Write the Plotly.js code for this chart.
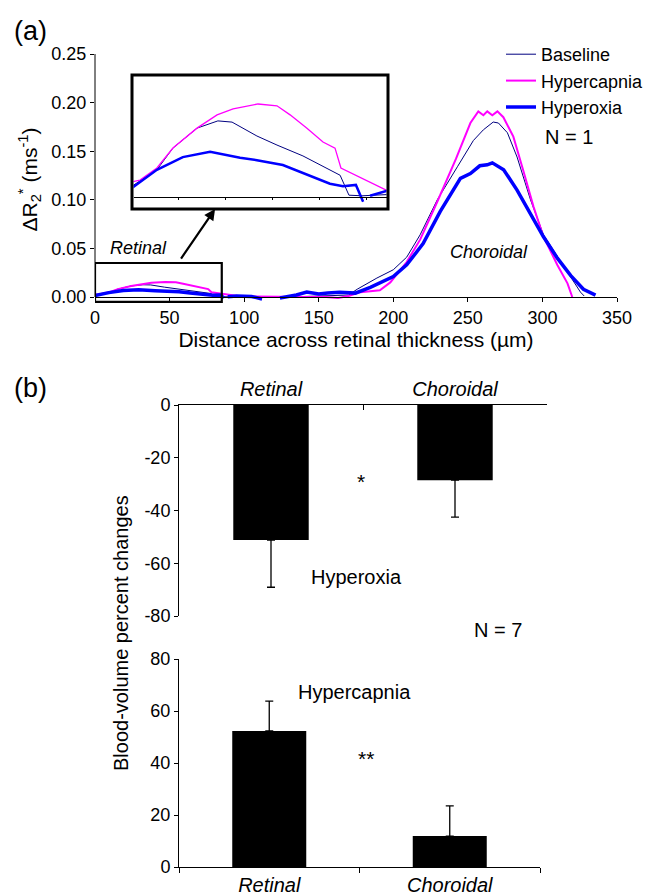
<!DOCTYPE html>
<html>
<head>
<meta charset="utf-8">
<script src="https://cdn.plot.ly/plotly-3.0.1.min.js"></script>
<style>html,body{margin:0;padding:0;background:#fff;}</style>
</head>
<body>
<div id="chart" style="width:651px;height:896px;"></div>
<script>
// ---- Panel (a): ΔR2* profiles across retinal thickness (µm) ----
const baselineX = [0, 9.3, 15.3, 24.3, 32.1, 37.4, 46.7, 54.2, 63.9, 71.4, 77.8, 81.1, 86, 100, 120, 140, 160, 170, 175.8, 189, 200, 209, 218, 229.5, 243, 253.7, 260.4, 267, 270.5, 276.5, 283, 292, 300.7, 314, 325.5, 328];
const baselineY = [0.0018, 0.0045, 0.0081, 0.0114, 0.0126, 0.0124, 0.0101, 0.0086, 0.0068, 0.0051, 0.0036, 0.0003, 0.0002, 0.0005, 0.0, 0.0005, 0.001, 0.002, 0.008, 0.0195, 0.028, 0.041, 0.064, 0.100, 0.134, 0.161, 0.172, 0.180, 0.179, 0.169, 0.144, 0.100, 0.064, 0.033, 0.005, 0.001];

const hypercapniaX = [0, 3, 9.3, 15.3, 24.3, 31.8, 37.8, 47.1, 54.2, 59.1, 65.4, 71.4, 75.9, 78.1, 95.7, 105, 120, 140, 155, 163, 170, 178, 191, 198, 209, 218, 229.5, 242, 251.7, 257, 260.4, 263, 266.4, 269.8, 273.8, 280.5, 287, 294, 300.7, 310, 316.8, 320];
const hypercapniaY = [0.0025, 0.0028, 0.0048, 0.0081, 0.0114, 0.0136, 0.0146, 0.0154, 0.0151, 0.0136, 0.0114, 0.0091, 0.0081, 0.0048, 0.0010, 0.0005, 0.0, 0.0, 0.0, -0.001, 0.001, 0.005, 0.007, 0.015, 0.036, 0.059, 0.098, 0.142, 0.179, 0.191, 0.187, 0.191, 0.187, 0.191, 0.185, 0.165, 0.131, 0.093, 0.062, 0.033, 0.014, 0.0];

const hyperoxiaX = [0, 9.3, 19, 29.2, 40.4, 46.7, 56.4, 63.9, 74, 78.9, 83.7, 86.4, 88, 89, 95, 105, 112, 118, 124, 135, 142, 150, 156, 164, 174.5, 184.6, 200, 209, 220, 231.5, 245, 251.7, 258, 263, 266.4, 274, 283, 292, 300.7, 310, 319, 327.5, 335.6];
const hyperoxiaY = [0.0015, 0.0045, 0.0066, 0.0075, 0.0065, 0.0061, 0.0053, 0.0040, 0.0022, 0.0018, 0.0020, -0.0008, null, 0.0002, 0.001, 0.0005, -0.002, null, -0.001, 0.002, 0.005, 0.003, 0.004, 0.005, 0.004, 0.010, 0.021, 0.033, 0.055, 0.088, 0.122, 0.127, 0.135, 0.136, 0.138, 0.131, 0.110, 0.086, 0.062, 0.040, 0.022, 0.008, 0.002];

const xTicksA = [0, 50, 100, 150, 200, 250, 300, 350];

// ---- Panel (b): blood-volume percent changes (N = 7) ----
const regions = ['Retinal', 'Choroidal'];
const hyperoxiaChange = [-51.2, -28.5];
const hyperoxiaErr = [17.9, 14.0];
const hypercapniaChange = [52.3, 11.9];
const hypercapniaErr = [11.5, 11.6];
const negTickVals = [-80, -60, -40, -20, 0];
const negTickText = ['-80', '-60', '-40', '-20', '0'];
const posTickVals = [0, 20, 40, 60, 80];

const W = 651, H = 896;
const px = v => v / W;
const py = v => 1 - v / H;
const FONT = 'Liberation Sans, Arial, Helvetica, sans-serif';
const NAVY = '#000080', MAGENTA = '#ff00ff', BLUE = '#0000ff';
const noErr = arr => arr.map(() => 0);

const traces = [
  {x: baselineX, y: baselineY, name: 'Baseline', mode: 'lines', line: {color: NAVY, width: 1}, xaxis: 'x', yaxis: 'y'},
  {x: hypercapniaX, y: hypercapniaY, name: 'Hypercapnia', mode: 'lines', line: {color: MAGENTA, width: 2}, xaxis: 'x', yaxis: 'y'},
  {x: hyperoxiaX, y: hyperoxiaY, name: 'Hyperoxia', mode: 'lines', line: {color: BLUE, width: 3.5}, xaxis: 'x', yaxis: 'y'},
  // inset (magnified retinal region)
  {x: baselineX, y: baselineY, mode: 'lines', line: {color: NAVY, width: 1}, xaxis: 'x2', yaxis: 'y2', showlegend: false, hoverinfo: 'skip'},
  {x: hypercapniaX, y: hypercapniaY, mode: 'lines', line: {color: MAGENTA, width: 1.3}, xaxis: 'x2', yaxis: 'y2', showlegend: false, hoverinfo: 'skip'},
  {x: hyperoxiaX, y: hyperoxiaY, mode: 'lines', line: {color: BLUE, width: 2.5}, xaxis: 'x2', yaxis: 'y2', showlegend: false, hoverinfo: 'skip'},
  // bars
  {type: 'bar', x: regions, y: hyperoxiaChange, width: 0.41, marker: {color: '#000'}, xaxis: 'x3', yaxis: 'y3', showlegend: false,
   error_y: {type: 'data', symmetric: false, array: noErr(hyperoxiaErr), arrayminus: hyperoxiaErr, color: '#000', thickness: 1.3, width: 4}},
  {type: 'bar', x: regions, y: hypercapniaChange, width: 0.41, marker: {color: '#000'}, xaxis: 'x4', yaxis: 'y4', showlegend: false,
   error_y: {type: 'data', symmetric: false, array: hypercapniaErr, arrayminus: noErr(hypercapniaErr), color: '#000', thickness: 1.3, width: 4}}
];

const tickFont = {family: FONT, size: 18, color: '#000'};
const catFont = {family: FONT, size: 20, color: '#000', style: 'italic'};

const layout = {
  width: W, height: H,
  margin: {l: 0, r: 0, t: 0, b: 0},
  paper_bgcolor: '#fff', plot_bgcolor: 'rgba(0,0,0,0)',
  font: {family: FONT, color: '#000'},
  showlegend: true,
  legend: {x: px(501), y: py(36), xanchor: 'left', yanchor: 'top', bgcolor: 'rgba(0,0,0,0)', font: {family: FONT, size: 18, color: '#000'}},
  xaxis: {
    domain: [px(95), px(617)], range: [0, 350], anchor: 'free', position: py(297),
    tickvals: xTicksA, ticks: 'outside', ticklen: 4, tickcolor: '#000', showline: true, linecolor: '#000', linewidth: 1,
    showgrid: false, zeroline: false, tickfont: tickFont,
    title: {text: 'Distance across retinal thickness (µm)', font: {family: FONT, size: 21, color: '#000'}, standoff: 3}
  },
  yaxis: {
    domain: [py(305), py(54)], range: [-0.00823, 0.25], anchor: 'x',
    tick0: 0, dtick: 0.05, tickformat: '.2f', ticks: 'outside', ticklen: 4, tickcolor: '#000',
    showline: false, showgrid: false, zeroline: false, tickfont: tickFont,
    title: {text: 'ΔR<sub>2</sub><sup>*</sup> (ms<sup>-1</sup>)', font: {family: FONT, size: 21, color: '#000'}, standoff: 8}
  },
  xaxis2: {
    domain: [px(133.5), px(386.5)], range: [(133.5 - 132) / 2.675, (386.5 - 132) / 2.675], anchor: 'free', position: py(197),
    tick0: 0, dtick: 17.5, ticks: 'outside', ticklen: 2, tickcolor: '#000', showticklabels: false,
    showline: true, linecolor: '#000', linewidth: 1, showgrid: false, zeroline: false
  },
  yaxis2: {
    domain: [py(207.5), py(76.5)], range: [(197 - 207.5) / 6040, (197 - 76.5) / 6040], anchor: 'x2',
    visible: false, showgrid: false, zeroline: false
  },
  xaxis3: {
    domain: [px(179), px(547)], anchor: 'y3', side: 'top', type: 'category', categoryarray: regions, range: [-0.5, 1.5],
    tickson: 'boundaries', ticks: 'inside', ticklen: 5, tickcolor: '#000', showline: true, linecolor: '#000', linewidth: 1,
    showgrid: false, zeroline: false, tickfont: catFont
  },
  yaxis3: {
    domain: [py(616), py(405)], anchor: 'x3', range: [-80, 0], tickvals: negTickVals, ticktext: negTickText,
    ticks: 'outside', ticklen: 4, tickcolor: '#000',
    showline: true, linecolor: '#000', linewidth: 1, showgrid: false, zeroline: false, tickfont: tickFont
  },
  xaxis4: {
    domain: [px(179), px(540)], anchor: 'y4', side: 'bottom', type: 'category', categoryarray: regions, range: [-0.5, 1.5],
    tickson: 'boundaries', ticks: 'outside', ticklen: 5, tickcolor: '#000', showline: true, linecolor: '#000', linewidth: 1,
    showgrid: false, zeroline: false, tickfont: catFont
  },
  yaxis4: {
    domain: [py(867), py(659)], anchor: 'x4', range: [0, 80], tickvals: posTickVals, ticks: 'outside', ticklen: 4, tickcolor: '#000',
    showline: true, linecolor: '#000', linewidth: 1, showgrid: false, zeroline: false, tickfont: tickFont
  },
  shapes: [
    // y-axis line of panel (a), from 0 to 0.25
    {type: 'line', xref: 'paper', yref: 'y', x0: px(95), x1: px(95), y0: 0, y1: 0.25, line: {color: '#000', width: 1}},
    // small box marking the magnified region
    {type: 'rect', xref: 'x', yref: 'y', x0: 0, x1: 85, y0: -0.005, y1: 0.035, line: {color: '#000', width: 2.2}},
    // inset frame
    {type: 'rect', xref: 'paper', yref: 'paper', x0: px(132), x1: px(388), y0: py(209), y1: py(75), line: {color: '#000', width: 3}}
  ],
  annotations: [
    {text: '(a)', xref: 'paper', yref: 'paper', x: px(30), y: py(31), xanchor: 'center', yanchor: 'middle', showarrow: false, font: {family: FONT, size: 27, color: '#000'}},
    {text: '(b)', xref: 'paper', yref: 'paper', x: px(30), y: py(388), xanchor: 'center', yanchor: 'middle', showarrow: false, font: {family: FONT, size: 27, color: '#000'}},
    {text: '', xref: 'x', yref: 'y', x: 80.5, y: 0.0905, axref: 'x', ayref: 'y', ax: 57, ay: 0.038, showarrow: true, arrowhead: 2, arrowsize: 1, arrowwidth: 2.2, arrowcolor: '#000'},
    {text: 'Retinal', xref: 'x', yref: 'y', x: 29.2, y: 0.0504, xanchor: 'center', yanchor: 'middle', showarrow: false, font: {family: FONT, size: 18, color: '#000', style: 'italic'}},
    {text: 'Choroidal', xref: 'x', yref: 'y', x: 264.3, y: 0.0466, xanchor: 'center', yanchor: 'middle', showarrow: false, font: {family: FONT, size: 18, color: '#000', style: 'italic'}},
    {text: 'N = 1', xref: 'paper', yref: 'paper', x: px(543), y: py(137), xanchor: 'left', yanchor: 'middle', showarrow: false, font: {family: FONT, size: 20, color: '#000'}},
    {text: '*', xref: 'x3', yref: 'y3', x: 0.489, y: -29, xanchor: 'center', yanchor: 'middle', showarrow: false, font: {family: FONT, size: 21, color: '#000'}},
    {text: 'Hyperoxia', xref: 'x3', yref: 'y3', x: 0.462, y: -65.2, xanchor: 'center', yanchor: 'middle', showarrow: false, font: {family: FONT, size: 20, color: '#000'}},
    {text: 'N = 7', xref: 'paper', yref: 'paper', x: px(498), y: py(630), xanchor: 'center', yanchor: 'middle', showarrow: false, font: {family: FONT, size: 20, color: '#000'}},
    {text: 'Hypercapnia', xref: 'x4', yref: 'y4', x: 0.475, y: 67.3, xanchor: 'center', yanchor: 'middle', showarrow: false, font: {family: FONT, size: 20, color: '#000'}},
    {text: '**', xref: 'x4', yref: 'y4', x: 0.536, y: 41.8, xanchor: 'center', yanchor: 'middle', showarrow: false, font: {family: FONT, size: 21, color: '#000'}},
    {text: 'Blood-volume percent changes', xref: 'paper', yref: 'paper', x: px(121), y: py(633), xanchor: 'center', yanchor: 'middle', textangle: -90, showarrow: false, font: {family: FONT, size: 20, color: '#000'}}
  ]
};

Plotly.newPlot('chart', traces, layout, {staticPlot: true, displayModeBar: false});
</script>
</body>
</html>
